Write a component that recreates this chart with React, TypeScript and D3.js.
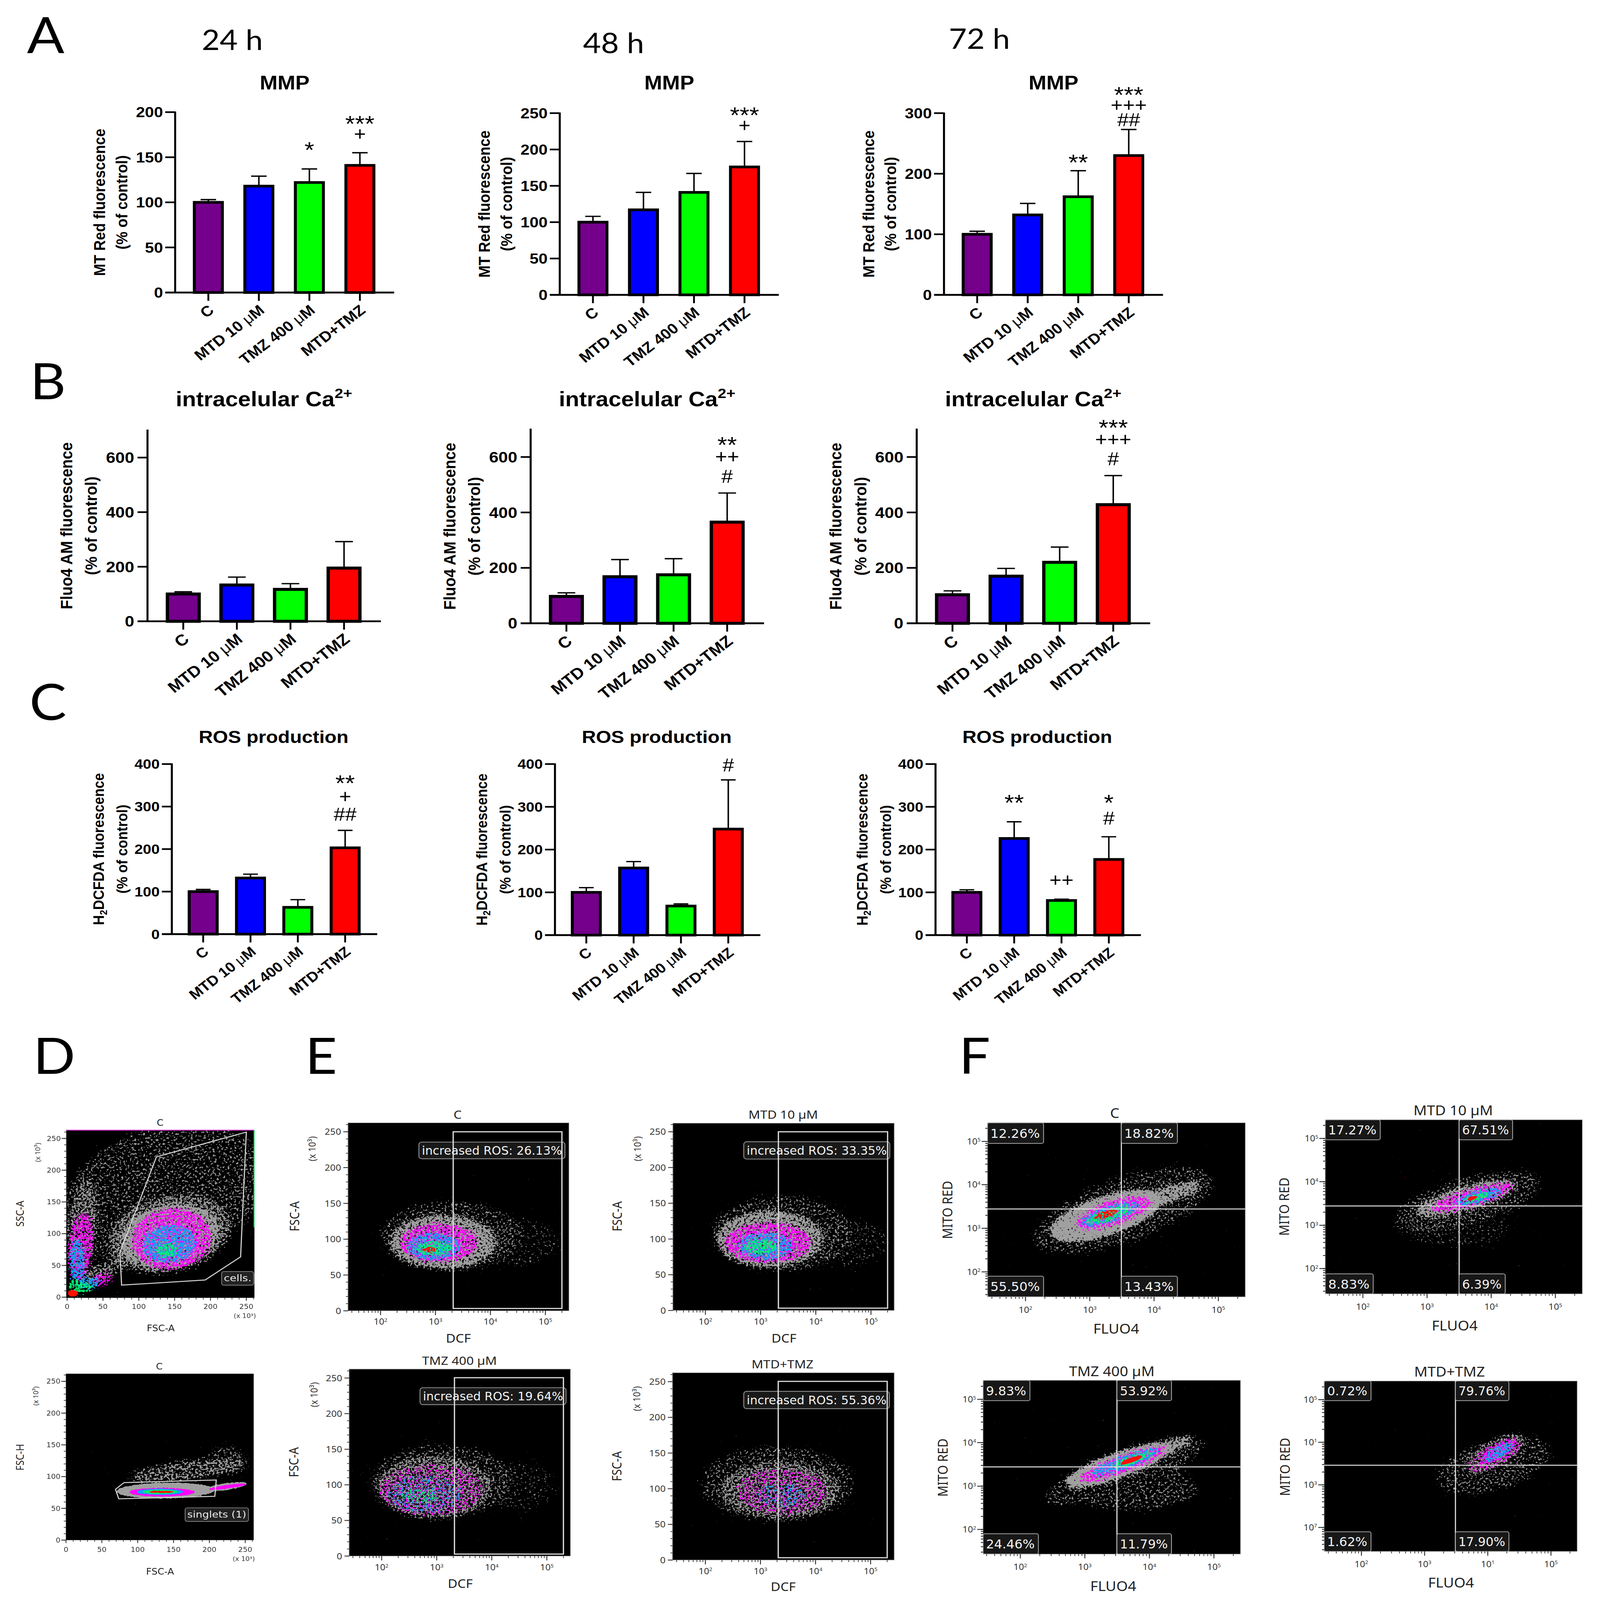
import React from "react";
import * as d3 from "d3";

// ---------- bar chart data ----------
const CATEGORIES = ["C", "MTD 10 μM", "TMZ 400 μM", "MTD+TMZ"];
const BAR_COLORS = ["#74008c", "#0000ff", "#00ff00", "#ff0000"];

const MMP_24_MEAN = [100, 118, 122, 141];
const MMP_24_TOP = [103, 129, 137, 155];
const MMP_48_MEAN = [100, 117, 141, 176];
const MMP_48_TOP = [108, 141, 167, 211];
const MMP_72_MEAN = [100, 132, 162, 230];
const MMP_72_TOP = [105, 151, 205, 273];
const CA_24_MEAN = [100, 133, 117, 195];
const CA_24_TOP = [108, 162, 138, 292];
const CA_48_MEAN = [97, 168, 175, 365];
const CA_48_TOP = [110, 230, 233, 470];
const CA_72_MEAN = [103, 170, 220, 428];
const CA_72_TOP = [117, 198, 275, 533];
const ROS_24_MEAN = [100, 132, 63, 203];
const ROS_24_TOP = [105, 141, 81, 244];
const ROS_48_MEAN = [100, 157, 68, 248];
const ROS_48_TOP = [111, 172, 73, 363];
const ROS_72_MEAN = [100, 226, 81, 177];
const ROS_72_TOP = [106, 265, 84, 230];

// [bar index, symbol, axis value at symbol centre]
type Mark = [number, string, number];
const MMP_24_MARKS: Mark[] = [[2, "*", 162], [3, "***", 191], [3, "+", 175]];
const MMP_48_MARKS: Mark[] = [[3, "***", 252], [3, "+", 232]];
const MMP_72_MARKS: Mark[] = [[2, "**", 224], [3, "***", 336], [3, "+++", 312], [3, "##", 289]];
const CA_48_MARKS: Mark[] = [[3, "**", 656], [3, "++", 598], [3, "#", 530]];
const CA_72_MARKS: Mark[] = [[3, "***", 718], [3, "+++", 660], [3, "#", 594]];
const ROS_24_MARKS: Mark[] = [[3, "**", 363], [3, "+", 322], [3, "##", 282]];
const ROS_48_MARKS: Mark[] = [[3, "#", 398]];
const ROS_72_MARKS: Mark[] = [[1, "**", 318], [2, "++", 127], [3, "*", 318], [3, "#", 274]];

const MMP_24_TICKS = [0, 50, 100, 150, 200];
const MMP_48_TICKS = [0, 50, 100, 150, 200, 250];
const MMP_72_TICKS = [0, 100, 200, 300];
const CA_TICKS = [0, 200, 400, 600];
const ROS_TICKS = [0, 100, 200, 300, 400];

// ---------- density levels ----------
// [level, centre x, centre y, radius x, radius y, tilt degrees]
type Level =
  | "faint" | "sparse" | "thin" | "gray" | "solid" | "solidTight"
  | "magentaThin" | "magenta" | "magentaTight" | "blueThin" | "blue" | "blueTight"
  | "greenThin" | "green" | "greenTight" | "red" | "redTight";
type Blob = [Level, number, number, number, number, number?];

const D_CELLS: Blob[] = [
  ["sparse", 130, 165, 150, 100, -25],
  ["sparse", 215, 185, 60, 80, 0],
  ["thin", 143, 100, 88, 60, -15],
  ["thin", 22, 115, 20, 75, 5],
  ["thin", 48, 40, 38, 12, -25],
  ["gray", 143, 96, 72, 50, -15],
  ["magenta", 146, 92, 56, 48, -10],
  ["magenta", 19, 80, 17, 55, 5],
  ["magenta", 48, 28, 18, 9, -20],
  ["blue", 143, 84, 38, 30, -10],
  ["blue", 14, 55, 11, 38, 0],
  ["blue", 30, 22, 17, 10, -10],
  ["green", 139, 74, 16, 11, -10],
  ["green", 11, 15, 9, 14, 0],
  ["green", 25, 15, 11, 8, 0],
  ["redTight", 8, 6, 7, 5, 0],
];
const D_SINGLETS: Blob[] = [
  ["thin", 170, 110, 85, 15, -8],
  ["sparse", 225, 125, 28, 25, 0],
  ["solidTight", 139, 78, 68, 12, -1],
  ["solidTight", 222, 84, 30, 5, -9],
  ["magentaTight", 134, 75.5, 45, 6.5, 0],
  ["magentaTight", 225, 84, 26, 2.5, -9],
  ["blueTight", 131, 76, 32, 4.5, 0],
  ["greenTight", 131, 76, 24, 3, 0],
  ["redTight", 134, 76, 17, 1.5, 0],
];
const E_CONTROL: Blob[] = [
  ["sparse", 3.3, 105, 1.3, 48, 0],
  ["faint", 4.5, 95, 0.75, 32, 0],
  ["gray", 3.14, 96, 0.98, 38, 0],
  ["magenta", 3.06, 95, 0.72, 27, 0],
  ["blue", 2.97, 90, 0.48, 19, 0],
  ["green", 2.97, 87, 0.33, 10, 0],
  ["red", 2.88, 85, 0.12, 4, 0],
];
const E_MTD: Blob[] = [
  ["sparse", 3.4, 108, 1.3, 52, 0],
  ["faint", 4.6, 95, 0.7, 34, 0],
  ["gray", 3.17, 100, 0.98, 40, 0],
  ["magenta", 3.13, 95, 0.8, 28, 0],
  ["blue", 3.09, 90, 0.5, 19, 0],
  ["green", 3.0, 89, 0.3, 11, 0],
];
const E_TMZ: Blob[] = [
  ["sparse", 3.1, 105, 1.3, 50, 0],
  ["faint", 4.5, 98, 0.65, 34, 0],
  ["thin", 2.95, 97, 1.05, 44, 0],
  ["magentaThin", 2.9, 93, 0.95, 36, 0],
  ["blueThin", 2.78, 87, 0.67, 27, 0],
  ["greenThin", 2.7, 85, 0.35, 10, 0],
];
const E_COMBO: Blob[] = [
  ["sparse", 3.3, 107, 1.4, 52, 0],
  ["thin", 3.35, 98, 1.1, 40, 0],
  ["magentaThin", 3.39, 96, 0.83, 33, 0],
  ["blueThin", 3.39, 91, 0.44, 18, 0],
];
const F_CONTROL: Blob[] = [
  ["sparse", 3.52, 3.42, 1.5, 0.72, -22],
  ["gray", 4.1, 3.72, 0.75, 0.2, -20],
  ["solid", 3.25, 3.29, 0.92, 0.44, -20],
  ["magenta", 3.37, 3.36, 0.63, 0.28, -20],
  ["blue", 3.32, 3.33, 0.5, 0.19, -20],
  ["green", 3.29, 3.31, 0.38, 0.13, -20],
  ["red", 3.25, 3.32, 0.2, 0.08, -20],
];
const F_MTD: Blob[] = [
  ["sparse", 3.63, 3.54, 1.2, 0.55, -18],
  ["faint", 3.44, 3.0, 0.86, 0.5, 0],
  ["gray", 3.6, 3.62, 0.85, 0.28, -18],
  ["magenta", 3.7, 3.64, 0.69, 0.2, -18],
  ["blue", 3.8, 3.66, 0.4, 0.14, -18],
  ["green", 3.77, 3.64, 0.23, 0.08, -18],
  ["redTight", 3.7, 3.62, 0.08, 0.035, -18],
];
const F_TMZ: Blob[] = [
  ["sparse", 3.62, 3.34, 1.35, 0.44, -22],
  ["sparse", 3.75, 2.95, 1.0, 0.5, 0],
  ["solid", 3.52, 3.48, 0.9, 0.28, -22],
  ["gray", 4.2, 3.85, 0.55, 0.16, -22],
  ["magenta", 3.59, 3.51, 0.75, 0.2, -22],
  ["blue", 3.62, 3.55, 0.59, 0.15, -22],
  ["green", 3.72, 3.6, 0.36, 0.1, -22],
  ["redTight", 3.72, 3.6, 0.18, 0.05, -22],
];
const F_COMBO: Blob[] = [
  ["sparse", 4.09, 3.46, 0.95, 0.58, -18],
  ["thin", 4.12, 3.74, 0.57, 0.3, -32],
  ["magentaThin", 4.12, 3.7, 0.5, 0.26, -32],
  ["magenta", 4.17, 3.77, 0.36, 0.18, -32],
  ["blue", 4.17, 3.77, 0.3, 0.14, -32],
  ["greenThin", 4.19, 3.82, 0.12, 0.05, -32],
];

// [level, colour, threshold gain, blur, seed]
const LEVELS: [Level, string, number, number, number][] = [
  ["faint", "#8e8e8e", 0.2, 16, 3],
  ["sparse", "#969696", 0.27, 16, 5],
  ["thin", "#9c9c9c", 0.36, 14, 7],
  ["gray", "#a0a0a0", 0.46, 14, 9],
  ["solid", "#a0a0a0", 0.6, 12, 11],
  ["solidTight", "#a0a0a0", 0.75, 2, 12],
  ["magentaThin", "#ff00ff", 0.3, 10, 13],
  ["magenta", "#ff00ff", 0.41, 10, 15],
  ["magentaTight", "#ff00ff", 0.75, 2, 16],
  ["blueThin", "#12a0f5", 0.28, 8, 17],
  ["blue", "#12a0f5", 0.41, 8, 19],
  ["blueTight", "#12a0f5", 0.75, 2, 20],
  ["greenThin", "#00f070", 0.3, 5, 21],
  ["green", "#00f070", 0.42, 6, 23],
  ["greenTight", "#00f070", 0.75, 1.5, 24],
  ["red", "#ff1000", 0.46, 3, 25],
  ["redTight", "#ff1000", 0.75, 1.5, 26],
];

// ---------- flow labels ----------
const E_TITLES = ["C", "MTD 10 µM", "TMZ 400 µM", "MTD+TMZ"];
const E_PERCENTS = ["26.13%", "33.35%", "19.64%", "55.36%"];
const F_TITLES = ["C", "MTD 10 µM", "TMZ 400 µM", "MTD+TMZ"];
const F_PERCENTS = [
  ["12.26%", "18.82%", "55.50%", "13.43%"],
  ["17.27%", "67.51%", "8.83%", "6.39%"],
  ["9.83%", "53.92%", "24.46%", "11.79%"],
  ["0.72%", "79.76%", "1.62%", "17.90%"],
];
const F_Y_EXPONENTS = [
  ["5", "4", "3", "2"],
  ["5", "4", "3", "2"],
  ["5", "4", "3", "2"],
  ["5", "1", "3", "7"],
];
const F_X_EXPONENTS = [
  ["2", "3", "4", "5"],
  ["2", "3", "4", "5"],
  ["2", "3", "4", "5"],
  ["2", "3", "1", "5"],
];
const D_CELL_GATE = [[250, 260], [124.6, 221], [73.7, 71], [76, 19], [192.6, 27], [242, 63.5]];
const D_SINGLET_GATE = [[69, 80], [81, 90.6], [209.6, 94.7], [207.6, 69], [73.6, 65]];
const LINEAR_TICKS = [0, 50, 100, 150, 200, 250];
const GATE_LOW = 2100;
const GATE_HIGH = 200000;

// ---------- layout ----------
const ARIAL = "'Liberation Sans', Arial, sans-serif";
const NOTO = "'Noto Sans', sans-serif";
const DEJA = "'DejaVu Sans', sans-serif";
const LATO = "Lato, sans-serif";

type Row = {
  first: number; last: number; xEnd: number; barW: number; barS: number; cap: number;
  tickFont: number; labelFont: number; xFont: number;
  line1: number; line2: number; titleFont: number; titleX: number; titleY: number; tickGap: number;
};
const ROW_A: Row = { first: 90, last: 501, xEnd: 594, barW: 84, barS: 8, cap: 21, tickFont: 44, labelFont: 44, xFont: 44, line1: -205, line2: -145, titleFont: 58, titleX: 297, titleY: 248, tickGap: 33 };
const ROW_B: Row = { first: 97, last: 533, xEnd: 633, barW: 95, barS: 9, cap: 24, tickFont: 46, labelFont: 46, xFont: 47, line1: -220, line2: -153, titleFont: 62, titleX: 316, titleY: 1198, tickGap: 36 };
const ROW_C: Row = { first: 85, last: 470, xEnd: 557, barW: 84, barS: 8, cap: 20, tickFont: 41, labelFont: 41.5, xFont: 42, line1: -199, line2: -135, titleFont: 53, titleX: 276, titleY: 2214, tickGap: 33 };

function Mu({ text }: { text: string }) {
  const parts = text.split("μ");
  if (parts.length < 2) return <>{text}</>;
  return (
    <>
      {parts[0]}
      <tspan fontWeight={400}>μ</tspan>
      {parts[1]}
    </>
  );
}

function BarChart(p: {
  row: Row; axis: number; top: number; zero: number; max: number; ticks: number[];
  mean: number[]; upper: number[]; marks: Mark[]; label1: React.ReactNode; title: React.ReactNode;
}) {
  const { row, axis, top, zero, max, ticks, mean, upper, marks } = p;
  const y = d3.scaleLinear().domain([0, max]).range([zero, top]);
  const x = d3.scalePoint<string>().domain(CATEGORIES).range([axis + row.first, axis + row.last]);
  const inner = row.barW - row.barS;
  const midY = (top + zero) / 2;
  return (
    <g fontFamily={ARIAL}>
      <text x={axis + row.titleX} y={row.titleY + row.titleFont * 0.36} fontSize={row.titleFont} fontWeight={700} textAnchor="middle">
        {p.title}
      </text>
      {CATEGORIES.map((c, i) => (
        <g key={c}>
          <line x1={x(c)} x2={x(c)} y1={y(mean[i])} y2={y(upper[i])} stroke="#000" strokeWidth={4} />
          <line x1={x(c)! - row.cap} x2={x(c)! + row.cap} y1={y(upper[i])} y2={y(upper[i])} stroke="#000" strokeWidth={4} />
          <rect x={x(c)! - inner / 2} y={y(mean[i])} width={inner} height={zero - y(mean[i])} fill={BAR_COLORS[i]} stroke="#000" strokeWidth={row.barS} />
          <line x1={x(c)} x2={x(c)} y1={zero} y2={zero + 25} stroke="#000" strokeWidth={5} />
          <text
            transform={`translate(${x(c)! + 8},${zero + 46}) rotate(-40)`}
            fontSize={row.xFont} fontWeight={700} textAnchor="end" dy="0.35em"
          >
            <Mu text={c} />
          </text>
        </g>
      ))}
      <line x1={axis} x2={axis} y1={top - 2} y2={zero + 2} stroke="#000" strokeWidth={5.5} />
      <line x1={axis - 27} x2={axis + row.xEnd} y1={zero} y2={zero} stroke="#000" strokeWidth={5.5} />
      {ticks.map((t) => (
        <g key={t}>
          {t > 0 && <line x1={axis - 27} x2={axis} y1={y(t)} y2={y(t)} stroke="#000" strokeWidth={5} />}
          <text x={axis - row.tickGap} y={y(t)} dy="0.35em" fontSize={row.tickFont} fontWeight={700} textAnchor="end">{t}</text>
        </g>
      ))}
      <text transform={`translate(${axis + row.line1},${midY}) rotate(-90)`} dy="0.35em" fontSize={row.labelFont} fontWeight={700} textAnchor="middle">{p.label1}</text>
      <text transform={`translate(${axis + row.line2},${midY}) rotate(-90)`} dy="0.35em" fontSize={row.labelFont} fontWeight={700} textAnchor="middle">(% of control)</text>
      {marks.map(([bar, sym, val], i) => {
        const star = sym[0] === "*";
        const fs = star ? 68 : 56;
        const k = star ? 0.5 : sym[0] === "+" ? 0.29 : 0.35;
        return (
          <text key={i} x={x(CATEGORIES[bar])} y={y(val) + fs * k} fontSize={fs} textAnchor="middle">
            {sym}
          </text>
        );
      })}
    </g>
  );
}

function Density({ blobs, x, y, id }: { blobs: Blob[]; x: (v: number) => number; y: (v: number) => number; id: string }) {
  return (
    <g clipPath={`url(#${id})`}>
      {LEVELS.filter(([lv]) => blobs.some((b) => b[0] === lv)).map(([lv]) => (
        <g key={lv} filter={`url(#lvl-${lv})`}>
          {blobs.filter((b) => b[0] === lv).map((b, i) => {
            const cx = x(b[1]);
            const cy = y(b[2]);
            return (
              <ellipse key={i} cx={cx} cy={cy} rx={Math.abs(x(b[1] + b[3]) - cx)} ry={Math.abs(y(b[2] + b[4]) - cy)}
                transform={`rotate(${b[5] ?? 0} ${cx} ${cy})`} fill="#000" />
            );
          })}
        </g>
      ))}
    </g>
  );
}

function Sup({ exp, size }: { exp: string; size: number }) {
  return (
    <>
      10
      <tspan dy={-size * 0.35} fontSize={size * 0.58}>{exp}</tspan>
    </>
  );
}

function LinearY({ y, left, top, bottom, font, family, gap }: { y: d3.ScaleLinear<number, number>; left: number; top: number; bottom: number; font: number; family: string; gap: number }) {
  const minor = d3.range(0, 270, 10).filter((v) => y(v) >= top);
  return (
    <g>
      {minor.map((v) => <line key={v} x1={left - 6} x2={left} y1={y(v)} y2={y(v)} stroke="#333" strokeWidth={2} />)}
      {LINEAR_TICKS.map((v) => (
        <g key={v}>
          <line x1={left - 13} x2={left} y1={y(v)} y2={y(v)} stroke="#333" strokeWidth={2.5} />
          <text x={left - gap} y={y(v)} dy="0.36em" fontSize={font} fontFamily={family} fill="#333" textAnchor="end">{v}</text>
        </g>
      ))}
      <line x1={left} x2={left} y1={top} y2={bottom} stroke="#333" strokeWidth={1} />
    </g>
  );
}

function LogX({ x, left, right, bottom, exps, font, labelY }: { x: d3.ScaleLinear<number, number>; left: number; right: number; bottom: number; exps: string[]; font: number; labelY: number }) {
  const lo = x.invert(left);
  const hi = x.invert(right);
  const minor = d3.scaleLog().domain([10 ** lo, 10 ** hi]).ticks().map((v) => Math.log10(v));
  return (
    <g>
      {minor.map((v, i) => <line key={i} x1={x(v)} x2={x(v)} y1={bottom} y2={bottom + 6} stroke="#333" strokeWidth={2} />)}
      {exps.map((e, i) => (
        <g key={i}>
          <line x1={x(i + 2)} x2={x(i + 2)} y1={bottom} y2={bottom + 13} stroke="#333" strokeWidth={2.5} />
          <text x={x(i + 2)} y={labelY} fontSize={font} fontFamily={NOTO} fill="#333" textAnchor="middle"><Sup exp={e} size={font} /></text>
        </g>
      ))}
    </g>
  );
}

type ERect = { l: number; r: number; t: number; b: number; d2: number; d5: number; y0: number; y250: number; gt: number; gb: number; bx: number; bt: number; bb: number; bw: number; titleX: number; titleY: number; dcfY: number; tickY: number; fx: number; fy: number; kx: number; ky: number };

function EPlot({ i, g, blobs }: { i: number; g: ERect; blobs: Blob[] }) {
  const x = d3.scaleLinear().domain([2, 5]).range([g.d2, g.d5]);
  const y = d3.scaleLinear().domain([0, 250]).range([g.y0, g.y250]);
  const id = `clip-e${i}`;
  const gx0 = x(Math.log10(GATE_LOW));
  const gx1 = x(Math.log10(GATE_HIGH));
  return (
    <g>
      <clipPath id={id}><rect x={g.l} y={g.t} width={g.r - g.l} height={g.b - g.t} /></clipPath>
      <text x={g.titleX} y={g.titleY + 13} fontSize={35} fontFamily={NOTO} fill="#222" textAnchor="middle">{E_TITLES[i]}</text>
      <rect x={g.l} y={g.t} width={g.r - g.l} height={g.b - g.t} fill="#000" stroke="#aaa" strokeWidth={1.5} />
      <Density blobs={blobs} x={x} y={y} id={id} />
      <rect x={g.bx} y={g.bt} width={g.bw} height={g.bb - g.bt} rx={8} fill="#191919" stroke="#8a8a8a" strokeWidth={2.5} />
      <rect x={gx0} y={g.gt} width={gx1 - gx0} height={g.gb - g.gt} fill="none" stroke="#d8d8d8" strokeWidth={3.5} />
      <text x={g.bx + 8} y={(g.bt + g.bb) / 2 + 13} fontSize={36} fontFamily={DEJA} fill="#f2f2f2" textLength={g.bw - 16} lengthAdjust="spacingAndGlyphs">
        {`increased ROS: ${E_PERCENTS[i]}`}
      </text>
      <LinearY y={y} left={g.l} top={g.t} bottom={g.b} font={26} family={NOTO} gap={19} />
      <LogX x={x} left={g.l} right={g.r} bottom={g.b} exps={["2", "3", "4", "5"]} font={25} labelY={g.tickY + 9} />
      <text x={g.titleX + 2} y={g.dcfY + 13} fontSize={36} fontFamily={NOTO} fill="#222" textAnchor="middle">DCF</text>
      <text transform={`translate(${g.fx},${g.fy}) rotate(-90)`} dy="0.35em" fontSize={34} fontFamily={NOTO} fill="#222" textAnchor="middle">FSC-A</text>
      <text transform={`translate(${g.kx},${g.ky}) rotate(-90)`} dy="0.35em" fontSize={26} fontFamily={NOTO} fill="#333" textAnchor="middle">(x 10³)</text>
    </g>
  );
}

type FRect = { l: number; r: number; t: number; b: number; xt: number[]; yt: number[]; cx: number; cy: number; h: number; wT: number[]; wB: number[]; titleX: number; titleY: number; axisY: number; tickY: number; rx: number; ry: number };

function FPlot({ i, g, blobs }: { i: number; g: FRect; blobs: Blob[] }) {
  const x = d3.scaleLinear().domain([2, 5]).range([g.xt[0], g.xt[3]]);
  const y = d3.scaleLinear().domain([5, 2]).range([g.yt[0], g.yt[3]]);
  const id = `clip-f${i}`;
  const hi = y.invert(g.t);
  const lo = y.invert(g.b);
  const minor = d3.scaleLog().domain([10 ** lo, 10 ** hi]).ticks().map((v) => Math.log10(v));
  const pct = F_PERCENTS[i];
  const boxes = [
    { v: pct[0], bx: g.l, by: g.t, w: g.wT[0] },
    { v: pct[1], bx: g.cx, by: g.t, w: g.wT[1] },
    { v: pct[2], bx: g.l, by: g.b - g.h, w: g.wB[0] },
    { v: pct[3], bx: g.cx, by: g.b - g.h, w: g.wB[1] },
  ];
  return (
    <g>
      <clipPath id={id}><rect x={g.l} y={g.t} width={g.r - g.l} height={g.b - g.t} /></clipPath>
      <text x={g.titleX} y={g.titleY + 15} fontSize={40} fontFamily={NOTO} fill="#222" textAnchor="middle">{F_TITLES[i]}</text>
      <rect x={g.l} y={g.t} width={g.r - g.l} height={g.b - g.t} fill="#000" stroke="#999" strokeWidth={1.5} />
      <Density blobs={blobs} x={x} y={y} id={id} />
      <line x1={g.cx} x2={g.cx} y1={g.t} y2={g.b} stroke="#e4e4e4" strokeWidth={3} />
      <line x1={g.l} x2={g.r} y1={g.cy} y2={g.cy} stroke="#e4e4e4" strokeWidth={3} />
      {boxes.map((b, k) => (
        <g key={k}>
          <rect x={b.bx} y={b.by} width={b.w} height={g.h} rx={5} fill="#171717" stroke="#b4b4b4" strokeWidth={2} />
          <text x={b.bx + 8} y={b.by + g.h / 2 + 14} fontSize={38} fontFamily={DEJA} fill="#f2f2f2" textLength={b.w - 18} lengthAdjust="spacingAndGlyphs">{b.v}</text>
        </g>
      ))}
      {minor.map((v, k) => <line key={k} x1={g.l - 6} x2={g.l} y1={y(v)} y2={y(v)} stroke="#222" strokeWidth={2.5} />)}
      {F_Y_EXPONENTS[i].map((e, k) => (
        <g key={k}>
          <line x1={g.l - 16} x2={g.l} y1={g.yt[k]} y2={g.yt[k]} stroke="#222" strokeWidth={2.5} />
          <text x={g.l - 19} y={g.yt[k] + 9} fontSize={25} fontFamily={NOTO} fill="#333" textAnchor="end"><Sup exp={e} size={25} /></text>
        </g>
      ))}
      <LogX x={x} left={g.l} right={g.r} bottom={g.b} exps={F_X_EXPONENTS[i]} font={25} labelY={g.tickY + 9} />
      <text x={g.titleX + 4} y={g.axisY + 15} fontSize={40} fontFamily={NOTO} fill="#222" textAnchor="middle">FLUO4</text>
      <text transform={`translate(${g.rx},${g.ry}) rotate(-90)`} dy="0.35em" fontSize={37} fontFamily={NOTO} fill="#222" textAnchor="middle">MITO RED</text>
    </g>
  );
}

function DPlot(p: { i: number; l: number; r: number; t: number; b: number; x0: number; x250: number; y0: number; y250: number; blobs: Blob[]; gate: number[][]; yName: string; tag: string; tx: number; ty: number; tw: number; th: number; titleY: number; tickY: number; axisY: number; nameY: number; kx: number; ky: number; titleX: number }) {
  const x = d3.scaleLinear().domain([0, 250]).range([p.x0, p.x250]);
  const y = d3.scaleLinear().domain([0, 250]).range([p.y0, p.y250]);
  const id = `clip-d${p.i}`;
  const minorX = d3.range(0, 270, 10).filter((v) => x(v) <= p.r);
  const gatePath = d3.line<number[]>().x((d) => x(d[0])).y((d) => y(d[1])).curve(d3.curveLinearClosed)(p.gate)!;
  return (
    <g>
      <clipPath id={id}><rect x={p.l} y={p.t} width={p.r - p.l} height={p.b - p.t} /></clipPath>
      <text x={p.titleX} y={p.titleY + 9} fontSize={26} fontFamily={DEJA} fill="#222" textAnchor="middle">C</text>
      <rect x={p.l} y={p.t} width={p.r - p.l} height={p.b - p.t} fill="#000" />
      <Density blobs={p.blobs} x={x} y={y} id={id} />
      {p.i === 0 && (
        <>
          <line x1={p.l} x2={p.r} y1={p.t + 1} y2={p.t + 1} stroke="#e040e0" strokeWidth={2.5} />
          <line x1={p.r - 1} x2={p.r - 1} y1={p.t} y2={y(110)} stroke="#20e060" strokeWidth={2.5} />
        </>
      )}
      <path d={gatePath} fill="none" stroke="#d4d4d4" strokeWidth={3} />
      <rect x={p.tx} y={p.ty} width={p.tw} height={p.th} rx={6} fill="#222" stroke="#8a8a8a" strokeWidth={2} />
      <text x={p.tx + 6} y={p.ty + p.th / 2 + 9} fontSize={26} fontFamily={DEJA} fill="#eee" textLength={p.tw - 12} lengthAdjust="spacingAndGlyphs">{p.tag}</text>
      <LinearY y={y} left={p.l} top={p.t} bottom={p.b} font={20} family={DEJA} gap={15} />
      {minorX.map((v) => <line key={v} x1={x(v)} x2={x(v)} y1={p.b} y2={p.b + 5} stroke="#333" strokeWidth={1.8} />)}
      {LINEAR_TICKS.map((v) => (
        <g key={v}>
          <line x1={x(v)} x2={x(v)} y1={p.b} y2={p.b + 9} stroke="#333" strokeWidth={2.2} />
          <text x={x(v)} y={p.tickY + 7} fontSize={20} fontFamily={DEJA} fill="#333" textAnchor="middle">{v}</text>
        </g>
      ))}
      <text x={p.x250 - 4} y={p.tickY + 34} fontSize={18} fontFamily={DEJA} fill="#333" textAnchor="middle">(x 10³)</text>
      <text x={p.titleX + 2} y={p.axisY + 9} fontSize={26} fontFamily={DEJA} fill="#222" textAnchor="middle">FSC-A</text>
      <text transform={`translate(54,${p.nameY}) rotate(-90)`} dy="0.35em" fontSize={29} fontFamily={NOTO} fill="#222" textAnchor="middle">{p.yName}</text>
      <text transform={`translate(${p.kx},${p.ky}) rotate(-90)`} dy="0.35em" fontSize={20} fontFamily={NOTO} fill="#333" textAnchor="middle">(x 10³)</text>
    </g>
  );
}

function Letter({ t, x, y, size = 150 }: { t: string; x: number; y: number; size?: number }) {
  return <text x={x} y={y + size * 0.36} fontSize={size} fontFamily={LATO} textAnchor="middle" fill="#000">{t}</text>;
}

const CA_TITLE = (<>intracelular Ca<tspan dy={-24} fontSize={42}>2+</tspan></>);
const H2_LABEL = (<>H<tspan dy={9} fontSize={28}>2</tspan><tspan dy={-9}>DCFDA fluorescence</tspan></>);

export default function App() {
  return (
    <svg viewBox="0 0 4339 4808" preserveAspectRatio="none" style={{ position: "fixed", left: 0, top: 0, width: "100vw", height: "100vh", display: "block", background: "#fff" }}>
      <defs>
        {LEVELS.map(([lv, color, w, blur, seed]) => (
          <filter key={lv} id={`lvl-${lv}`} x="-40%" y="-40%" width="180%" height="180%" colorInterpolationFilters="sRGB">
            <feTurbulence type="fractalNoise" baseFrequency={0.17} numOctaves={2} seed={seed} result="n" />
            <feGaussianBlur in="SourceAlpha" stdDeviation={blur} result="b" />
            <feColorMatrix in="b" type="matrix" values="0 0 0 0 0  0 0 0 0 0  0 0 0 0 0  0 0 0 1.4 0" result="soft" />
            <feComposite in="n" in2="soft" operator="arithmetic" k1={0} k2={1} k3={w} k4={-0.85} result="sum" />
            <feColorMatrix in="sum" type="matrix" values="0 0 0 0 0  0 0 0 0 0  0 0 0 0 0  0 0 0 12 0" result="mask" />
            <feFlood floodColor={color} result="c" />
            <feComposite in="c" in2="mask" operator="in" />
          </filter>
        ))}
      </defs>

      <Letter t="A" x={124} y={106} />
      <Letter t="B" x={130} y={1146} />
      <Letter t="C" x={130} y={2109} />
      <Letter t="D" x={147} y={3173} />
      <Letter t="E" x={871} y={3173} />
      <Letter t="F" x={2643} y={3173} />
      <text x={630} y={150} fontSize={84} fontFamily={LATO} textAnchor="middle">24 h</text>
      <text x={1664} y={160} fontSize={84} fontFamily={LATO} textAnchor="middle">48 h</text>
      <text x={2656} y={147} fontSize={84} fontFamily={LATO} textAnchor="middle">72 h</text>

      <BarChart row={ROW_A} axis={475} top={337} zero={879} max={200} ticks={MMP_24_TICKS} mean={MMP_24_MEAN} upper={MMP_24_TOP} marks={MMP_24_MARKS} label1="MT Red fluorescence" title="MMP" />
      <BarChart row={ROW_A} axis={1518} top={340} zero={886} max={250} ticks={MMP_48_TICKS} mean={MMP_48_MEAN} upper={MMP_48_TOP} marks={MMP_48_MARKS} label1="MT Red fluorescence" title="MMP" />
      <BarChart row={ROW_A} axis={2560} top={340} zero={886} max={300} ticks={MMP_72_TICKS} mean={MMP_72_MEAN} upper={MMP_72_TOP} marks={MMP_72_MARKS} label1="MT Red fluorescence" title="MMP" />

      <BarChart row={ROW_B} axis={400} top={1293} zero={1867} max={700} ticks={CA_TICKS} mean={CA_24_MEAN} upper={CA_24_TOP} marks={[]} label1="Fluo4 AM fluorescence" title={CA_TITLE} />
      <BarChart row={ROW_B} axis={1439} top={1290} zero={1873} max={700} ticks={CA_TICKS} mean={CA_48_MEAN} upper={CA_48_TOP} marks={CA_48_MARKS} label1="Fluo4 AM fluorescence" title={CA_TITLE} />
      <BarChart row={ROW_B} axis={2486} top={1290} zero={1873} max={700} ticks={CA_TICKS} mean={CA_72_MEAN} upper={CA_72_TOP} marks={CA_72_MARKS} label1="Fluo4 AM fluorescence" title={CA_TITLE} />

      <BarChart row={ROW_C} axis={466} top={2296} zero={2807} max={400} ticks={ROS_TICKS} mean={ROS_24_MEAN} upper={ROS_24_TOP} marks={ROS_24_MARKS} label1={H2_LABEL} title="ROS production" />
      <BarChart row={ROW_C} axis={1505} top={2296} zero={2810} max={400} ticks={ROS_TICKS} mean={ROS_48_MEAN} upper={ROS_48_TOP} marks={ROS_48_MARKS} label1={H2_LABEL} title="ROS production" />
      <BarChart row={ROW_C} axis={2537} top={2296} zero={2810} max={400} ticks={ROS_TICKS} mean={ROS_72_MEAN} upper={ROS_72_TOP} marks={ROS_72_MARKS} label1={H2_LABEL} title="ROS production" />

      <DPlot i={0} l={180} r={690} t={3395} b={3900} x0={182} x250={668} y0={3898} y250={3421} blobs={D_CELLS} gate={D_CELL_GATE} yName="SSC-A" tag="cells." tx={601} ty={3821} tw={87} th={41} titleX={434} titleY={3374} tickY={3926} axisY={3991} nameY={3647} kx={102} ky={3463} />
      <DPlot i={1} l={179} r={688} t={4128} b={4628} x0={179} x250={665} y0={4628} y250={4151} blobs={D_SINGLETS} gate={D_SINGLET_GATE} yName="FSC-H" tag="singlets (1)" tx={502} ty={4531} tw={172} th={41} titleX={432} titleY={4106} tickY={4657} axisY={4723} nameY={4379} kx={97} ky={4195} />

      <EPlot i={0} blobs={E_CONTROL} g={{ l: 944, r: 1543, t: 3374, b: 3939, d2: 1032, d5: 1479, y0: 3939, y250: 3401, gt: 3401, gb: 3932, bx: 1136, bt: 3432, bb: 3482, bw: 396, titleX: 1241, titleY: 3349, dcfY: 4021, tickY: 3972, fx: 800, fy: 3655, kx: 847, ky: 3452 }} />
      <EPlot i={1} blobs={E_MTD} g={{ l: 1825, r: 2425, t: 3375, b: 3938, d2: 1913, d5: 2362, y0: 3938, y250: 3401, gt: 3401, gb: 3931, bx: 2017, bt: 3431, bb: 3483, bw: 396, titleX: 2124, titleY: 3349, dcfY: 4021, tickY: 3971, fx: 1675, fy: 3655, kx: 1729, ky: 3452 }} />
      <EPlot i={2} blobs={E_TMZ} g={{ l: 947, r: 1547, t: 4114, b: 4676, d2: 1035, d5: 1483, y0: 4676, y250: 4141, gt: 4140, gb: 4670, bx: 1139, bt: 4170, bb: 4221, bw: 396, titleX: 1246, titleY: 4088, dcfY: 4759, tickY: 4710, fx: 797, fy: 4394, kx: 852, ky: 4191 }} />
      <EPlot i={3} blobs={E_COMBO} g={{ l: 1824, r: 2425, t: 4125, b: 4688, d2: 1913, d5: 2361, y0: 4688, y250: 4152, gt: 4151, gb: 4681, bx: 2017, bt: 4181, bb: 4233, bw: 395, titleX: 2122, titleY: 4099, dcfY: 4768, tickY: 4721, fx: 1674, fy: 4406, kx: 1727, ky: 4203 }} />

      <FPlot i={0} blobs={F_CONTROL} g={{ l: 2678, r: 3377, t: 3374, b: 3897, xt: [2781, 2955, 3130, 3304], yt: [3430, 3560, 3691, 3822], cx: 3041, cy: 3633, h: 62, wT: [152, 152], wB: [152, 152], titleX: 3023, titleY: 3345, axisY: 3992, tickY: 3936, rx: 2570, ry: 3636 }} />
      <FPlot i={1} blobs={F_MTD} g={{ l: 3594, r: 4291, t: 3365, b: 3888, xt: [3696, 3871, 4046, 4218], yt: [3421, 3551, 3682, 3812], cx: 3957, cy: 3624, h: 60, wT: [149, 145], wB: [130, 125], titleX: 3941, titleY: 3336, axisY: 3983, tickY: 3927, rx: 3483, ry: 3626 }} />
      <FPlot i={2} blobs={F_TMZ} g={{ l: 2666, r: 3364, t: 4148, b: 4670, xt: [2767, 2942, 3117, 3292], yt: [4205, 4335, 4466, 4596], cx: 3029, cy: 4408, h: 61, wT: [127, 148], wB: [150, 148], titleX: 3015, titleY: 4120, axisY: 4766, tickY: 4709, rx: 2557, ry: 4410 }} />
      <FPlot i={3} blobs={F_COMBO} g={{ l: 3591, r: 4277, t: 4150, b: 4662, xt: [3692, 3862, 4033, 4206], yt: [4206, 4334, 4462, 4590], cx: 3947, cy: 4403, h: 59, wT: [127, 145], wB: [127, 145], titleX: 3931, titleY: 4122, axisY: 4756, tickY: 4700, rx: 3485, ry: 4408 }} />
    </svg>
  );
}
